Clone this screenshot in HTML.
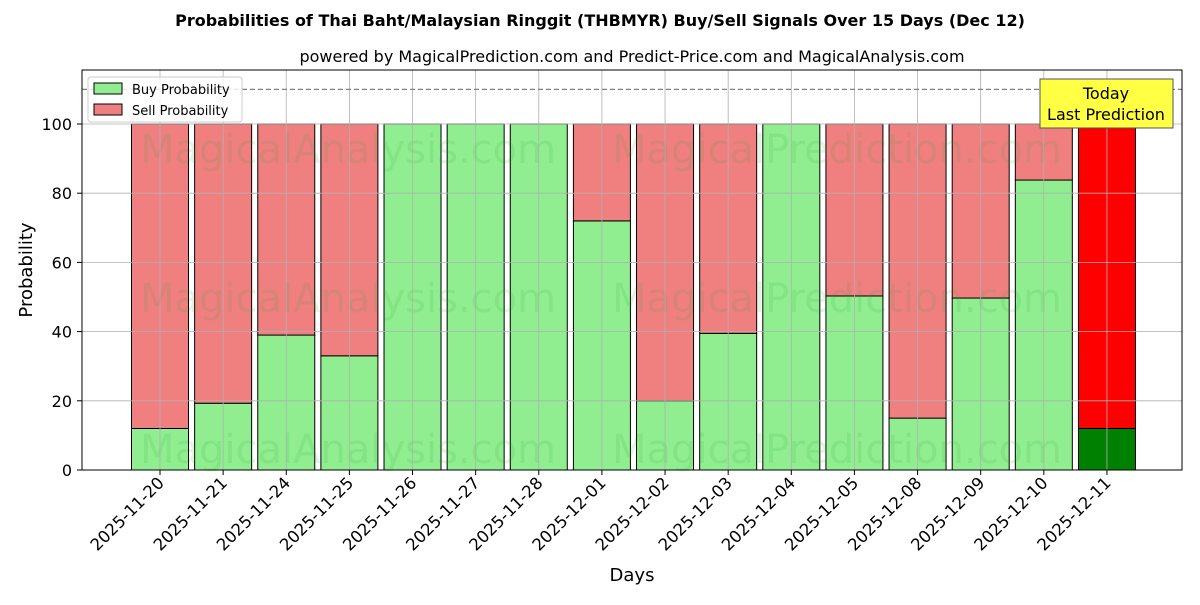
<!DOCTYPE html>
<html><head><meta charset="utf-8"><style>
body{margin:0;background:#fff;font-family:"Liberation Sans","DejaVu Sans",sans-serif}
</style></head><body>
<svg id="chart" width="1200" height="600" xmlns="http://www.w3.org/2000/svg" font-family="DejaVu Sans, Liberation Sans, sans-serif">
<rect width="1200" height="600" fill="#fff"/>
<text x="600" y="26" text-anchor="middle" font-size="16" font-weight="bold">Probabilities of Thai Baht/Malaysian Ringgit (THBMYR) Buy/Sell Signals Over 15 Days (Dec 12)</text>
<text x="632" y="62" text-anchor="middle" font-size="16">powered by MagicalPrediction.com and Predict-Price.com and MagicalAnalysis.com</text>
<g id="bars"></g>
<g id="wm" font-size="40" fill="#2ca02c" fill-opacity="0.12">
<text x="348" y="163" text-anchor="middle">MagicalAnalysis.com</text>
<text x="837" y="163" text-anchor="middle">MagicalPrediction.com</text>
<text x="348" y="312" text-anchor="middle">MagicalAnalysis.com</text>
<text x="837" y="312" text-anchor="middle">MagicalPrediction.com</text>
<text x="348" y="463" text-anchor="middle">MagicalAnalysis.com</text>
<text x="837" y="463" text-anchor="middle">MagicalPrediction.com</text>
</g>
<g id="grid"></g>
<g id="axes"></g>
<line x1="82" x2="1182" y1="89.4" y2="89.4" stroke="#808080" stroke-width="1.2" stroke-dasharray="5,3"/>
<rect x="82" y="70" width="1100" height="400" fill="none" stroke="#000" stroke-width="1"/>
<g>
<rect x="88" y="77" width="154" height="45" rx="3" fill="#fff" fill-opacity="0.8" stroke="#ccc"/>
<rect x="94" y="83" width="28" height="11" fill="#90ee90" stroke="#000"/>
<text x="132" y="94" font-size="13">Buy Probability</text>
<rect x="94" y="104" width="28" height="11" fill="#f08080" stroke="#000"/>
<text x="132" y="115" font-size="13">Sell Probability</text>
</g>
<g>
<rect x="1040" y="79" width="133" height="49" fill="#ffff44" stroke="#555"/>
<text x="1106" y="99" text-anchor="middle" font-size="16">Today</text>
<text x="1106" y="120" text-anchor="middle" font-size="16">Last Prediction</text>
</g>
<text x="632" y="581" text-anchor="middle" font-size="18">Days</text>
<text transform="translate(32,270) rotate(-90)" text-anchor="middle" font-size="18">Probability</text>
</svg>
<script>
const days=["2025-11-20","2025-11-21","2025-11-24","2025-11-25","2025-11-26","2025-11-27","2025-11-28","2025-12-01","2025-12-02","2025-12-03","2025-12-04","2025-12-05","2025-12-08","2025-12-09","2025-12-10","2025-12-11"];
const buyValues=[12,19.3,39,33,100,100,100,72,20,39.5,100,50.3,15,49.7,83.8,12];
const sellValues=[88,80.7,61,67,0,0,0,28,80,60.5,0,49.7,85,50.3,16.2,88];
const yTicks=[0,20,40,60,80,100];
const NS="http://www.w3.org/2000/svg";
const x=i=>160+(i)*63.13;
const y=v=>470-v*3.46;
const bw=57;
function mk(t,a,p){const e=document.createElementNS(NS,t);for(const k in a)e.setAttribute(k,a[k]);p.appendChild(e);return e;}
const bars=document.getElementById('bars'),grid=document.getElementById('grid'),axes=document.getElementById('axes');
days.forEach((d,i)=>{
 const last=i===days.length-1;
 const b=mk('rect',{x:x(i)-bw/2,y:y(buyValues[i]),width:bw,height:y(0)-y(buyValues[i]),fill:last?'#008000':'#90ee90',stroke:'#000','stroke-width':1},bars);
 
 
 const s=mk('rect',{x:x(i)-bw/2,y:y(buyValues[i]+sellValues[i]),width:bw,height:y(buyValues[i])-y(buyValues[i]+sellValues[i]),fill:last?'#ff0000':'#f08080',stroke:'#000','stroke-width':1},bars);
 
 
 const g=mk('line',{x1:x(i),x2:x(i),y1:70,y2:470,stroke:'#b0b0b0','stroke-width':0.8},grid);
 
 
 mk('line',{x1:x(i),x2:x(i),y1:470,y2:475,stroke:'#000'},axes);
 const t=mk('text',{transform:`translate(${x(i)+5},${484}) rotate(-45)`,'text-anchor':'end','font-size':16.5},axes);
 t.textContent=d;
 
 
});
yTicks.forEach(v=>{
 const g=mk('line',{x1:82,x2:1182,y1:y(v),y2:y(v),stroke:'#b0b0b0','stroke-width':0.8},grid);
 
 
 mk('line',{x1:77,x2:82,y1:y(v),y2:y(v),stroke:'#000'},axes);
 const t=mk('text',{x:72,y:y(v)+6,'text-anchor':'end','font-size':16},axes);
 t.textContent=v;
 
 
});
</script>
</body></html>
